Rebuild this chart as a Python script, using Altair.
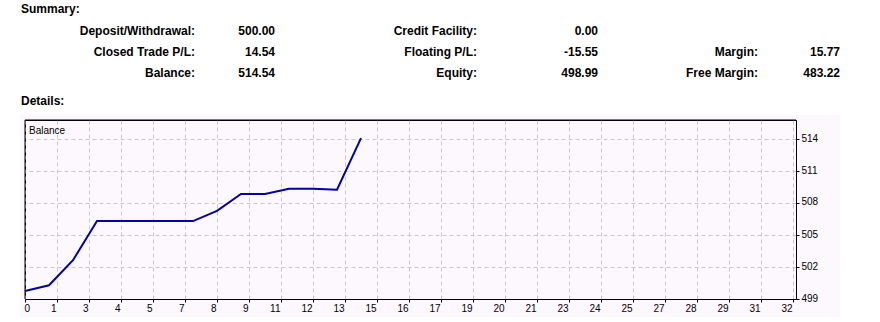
import altair as alt
import pandas as pd

# ---------------- data ----------------
trade_index = list(range(15))
balance = [500.00, 500.55, 502.93, 506.65, 506.65, 506.65, 506.65, 506.65,
           507.62, 509.22, 509.22, 509.72, 509.72, 509.63, 514.54]

x_tick_labels = [0, 1, 3, 4, 5, 7, 8, 9, 11, 12, 13, 15, 16, 17, 19, 20, 21,
                 23, 24, 25, 27, 28, 29, 31, 32]
x_tick_values = [k * 32 / 24 for k in range(len(x_tick_labels))]
y_tick_values = [499.24, 502.28, 505.32, 508.37, 511.41, 514.45]
y_tick_labels = [499, 502, 505, 508, 511, 514]

summary_col1_labels = ["Deposit/Withdrawal:", "Closed Trade P/L:", "Balance:"]
summary_col1_values = ["500.00", "14.54", "514.54"]
summary_col2_labels = ["Credit Facility:", "Floating P/L:", "Equity:"]
summary_col2_values = ["0.00", "-15.55", "498.99"]
summary_col3_labels = ["", "Margin:", "Free Margin:"]
summary_col3_values = ["", "15.77", "483.22"]

# ---------------- layout / style ----------------
W, H = 771, 179
PAD_L, PAD_T = 25, 120
BG = "#fdf8fd"
LINE = "#0000aa"
FONT = "Liberation Sans"
SMALL = 10
row_baselines = [35 - PAD_T, 56 - PAD_T, 77 - PAD_T]
col_label_right = [195 - PAD_L, 477 - PAD_L, 758 - PAD_L]
col_value_right = [275 - PAD_L, 598 - PAD_L, 840 - PAD_L]

one = pd.DataFrame({"k": [0]})


def txt(s, x, y, align="right", bold=True, size=12):
    return alt.Chart(pd.DataFrame({"t": [s]})).mark_text(
        align=align, baseline="alphabetic", font=FONT,
        fontWeight="bold" if bold else "normal", fontSize=size, color="black"
    ).encode(x=alt.value(x), y=alt.value(y), text="t:N")


def rect(x, x2, y, y2, color):
    return alt.Chart(one).mark_rect(color=color).encode(
        x=alt.value(x), x2=alt.value(x2), y=alt.value(y), y2=alt.value(y2))


layers = []
# white area outside the report picture
layers.append(rect(-PAD_L, 880 - PAD_L, -PAD_T, -5, "white"))
layers.append(rect(-PAD_L, -5, -5, 322 - PAD_T, "white"))
layers.append(rect(815, 880 - PAD_L, -5, 322 - PAD_T, "white"))
layers.append(rect(-PAD_L, 880 - PAD_L, 197, 322 - PAD_T, "white"))

# summary texts
layers.append(txt("Summary:", -4, 12.5 - PAD_T, align="left"))
layers.append(txt("Details:", -4, 105 - PAD_T, align="left"))
cols = [(summary_col1_labels, summary_col1_values),
        (summary_col2_labels, summary_col2_values),
        (summary_col3_labels, summary_col3_values)]
for ci, (labs, vals) in enumerate(cols):
    for ri, (lab, val) in enumerate(zip(labs, vals)):
        if lab:
            layers.append(txt(lab, col_label_right[ci], row_baselines[ri]))
        if val:
            layers.append(txt(val, col_value_right[ci], row_baselines[ri]))

# balance line
df = pd.DataFrame({"trade": trade_index, "balance": balance})
x_axis = alt.Axis(
    values=x_tick_values, title=None, grid=True, gridColor="#c8c8c8",
    gridDash=[4, 3], domainColor="black", tickColor="black", tickSize=3,
    labelExpr="format(round(datum.value), 'd')",
    labelAlign={"condition": {"test": "datum.value < 0.5", "value": "left"},
                "value": "right"},
    labelFlush=False, labelOverlap=False, labelFont=FONT, labelFontSize=SMALL,
    labelColor="black", labelPadding=1, labelOffset=-1,
)
y_axis = alt.Axis(
    orient="right", values=y_tick_values, title=None, grid=True,
    gridColor="#c8c8c8", gridDash=[4, 3], domainColor="black",
    tickColor="black", tickSize=3,
    labelExpr="format(round(datum.value), 'd')", labelAlign="left",
    labelBaseline="middle", labelFlush=False, labelOverlap=False,
    labelFont=FONT, labelFontSize=SMALL, labelColor="black", labelPadding=2,
    labelOffset=-1,
)
line = alt.Chart(df).mark_line(color=LINE, strokeWidth=2).encode(
    x=alt.X("trade:Q", scale=alt.Scale(domain=[0, 32.125], nice=False, zero=False), axis=x_axis),
    y=alt.Y("balance:Q", scale=alt.Scale(domain=[499.24, 516.26], nice=False, zero=False), axis=y_axis),
)
layers.append(line)

# "Balance" caption and top / left frame
layers.append(txt("Balance", 4, 14, align="left", bold=False, size=SMALL))
layers.append(alt.Chart(one).mark_rule(color="black", strokeWidth=1).encode(
    x=alt.value(0), x2=alt.value(W), y=alt.value(0)))
layers.append(alt.Chart(one).mark_rule(color="black", strokeWidth=1).encode(
    x=alt.value(0), y=alt.value(0), y2=alt.value(H)))

chart = alt.layer(*layers).properties(
    width=W, height=H,
    padding={"left": PAD_L, "top": PAD_T, "right": 880 - PAD_L - W, "bottom": 322 - PAD_T - H},
    autosize=alt.AutoSizeParams(type="none"),
    background=BG,
).configure_view(stroke="black", fill=BG)

chart.save("out.html", embed_options={"renderer": "svg", "actions": False})
